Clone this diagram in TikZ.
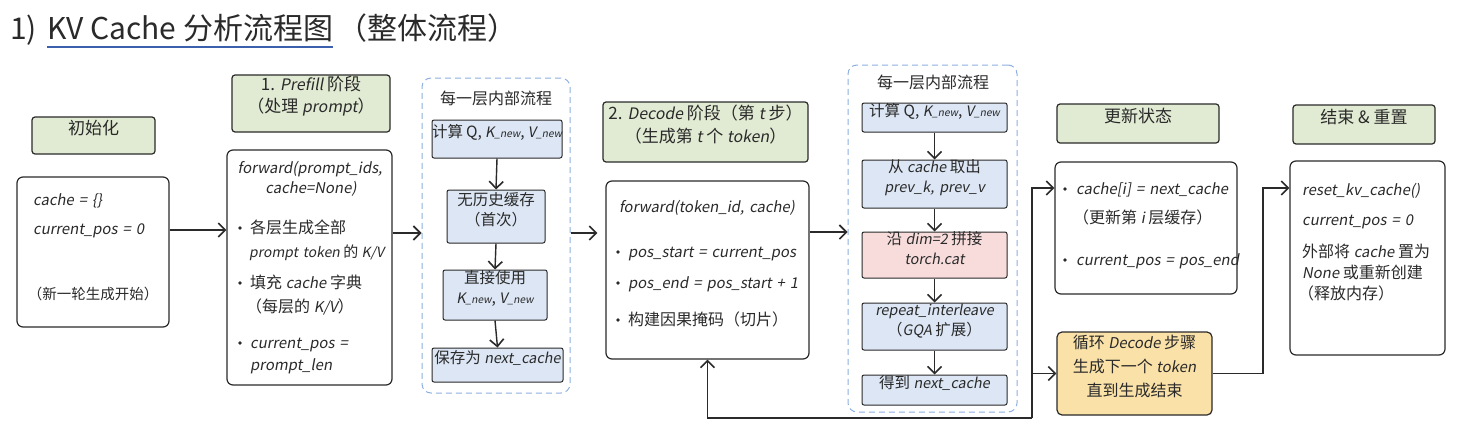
\documentclass[tikz,border=0pt]{standalone}
\usepackage{fontspec}
\setmainfont{Noto Sans CJK SC}
\newfontfamily\codefont[FakeSlant=0.18,Scale=0.93,WordSpace=1.5]{Noto Sans CJK SC}
\usetikzlibrary{arrows.meta,fit,calc}
\definecolor{ink}{HTML}{2A2A2A}
\definecolor{lgreen}{HTML}{E1EAD2}
\definecolor{lblue}{HTML}{DCE6F4}
\definecolor{lpink}{HTML}{F8DCDC}
\definecolor{lyellow}{HTML}{FAE1A8}
\definecolor{dashblue}{HTML}{8EB0E0}
\definecolor{ulblue}{HTML}{3C5FAE}
\newcommand\I[1]{{\codefont #1}}
\newcommand\sub[1]{{\codefont\fontsize{11}{11}\selectfont\_#1}}
\begin{document}
\begin{tikzpicture}[x=1pt,y=-1pt,
  every node/.style={text=ink},
  lbl/.style={draw=ink, line width=1.2pt, fill=lgreen, rounded corners=3pt, inner sep=0pt, align=center, font=\fontsize{17}{22}\selectfont},
  mbox/.style={draw=ink, line width=1.2pt, fill=white, rounded corners=6pt, inner sep=0pt},
  sbox/.style={draw=ink, line width=1pt, fill=lblue, rounded corners=2pt, inner sep=0pt, align=center, font=\fontsize{15.5}{20}\selectfont},
  grp/.style={draw=dashblue, dash pattern=on 6pt off 4pt, line width=1pt, rounded corners=9pt, inner sep=0pt},
  txt/.style={inner sep=0pt, anchor=base west, font=\fontsize{16}{19}\selectfont},
  ctxt/.style={txt, anchor=base},
  arr/.style={draw=ink, line width=1.4pt, -{Straight Barb[length=7pt,width=14pt,line width=1.6pt]}},
  bul/.style={fill=ink}
]
\fill[white] (0,0) rectangle (1467,434);
\useasboundingbox (0,0) rectangle (1467,434);

% title
\node[txt, font=\fontsize{30}{34}\selectfont] (ttlnum) at (10,39) {1)};
\node[txt, font=\fontsize{30}{34}\selectfont] (ttlmain) at (47,39) {KV Cache 分析流程图};
\node[txt, font=\fontsize{30}{34}\selectfont] (ttlsub) at ($(ttlmain.base east)+(4,0)$) {（整体流程）};
\coordinate (ulY) at (0,47);
\draw[ulblue, line width=1.5pt] (ttlmain.west |- ulY) -- (ttlmain.east |- ulY);

% init
\node[lbl, fit={(32,117) (155,154)}] (initlbl) {初始化};
\node[mbox, fit={(17,177) (169,327)}] (initbox) {};
\node[txt] (init1) at (33,205) {\I{cache = \{\}}};
\node[txt] (init2) at (33,234) {\I{current\_pos = 0}};
\node[ctxt, font=\fontsize{14.5}{18}\selectfont] (init3) at (93,299) {（新一轮生成开始）};

% prefill
\node[lbl, fit={(232,75) (390,132)}] (prelbl) {1. \I{Prefill} 阶段\\（处理 \I{prompt}）};
\node[mbox, fit={(227,150) (392,385)}] (prebox) {};
\node[ctxt] (pre1) at (310,173) {\I{forward(prompt\_ids,}};
\node[ctxt] (pre2) at (311,193) {\I{cache=None)}};
\fill[bul] (240,228) circle (1.8pt);
\fill[bul] (240,283) circle (1.8pt);
\fill[bul] (240,343) circle (1.8pt);
\node[txt] (pre3) at (250,233) {各层生成全部};
\node[txt, font=\fontsize{15}{19}\selectfont] (pre4) at (249,257) {\I{prompt token} 的 \I{K/V}};
\node[txt] (pre5) at (250,288) {填充 \I{cache} 字典};
\node[txt] (pre6) at (246,312) {（每层的 \I{K/V}）};
\node[txt] (pre7) at (250,348) {\I{current\_pos =}};
\node[txt] (pre8) at (250,370) {\I{prompt\_len}};

% inner flow 1
\node[grp, fit={(422,78) (570,393)}] (grp1) {};
\node[ctxt, font=\fontsize{16}{19}\selectfont] (grp1t) at (496,104) {每一层内部流程};
\node[sbox, fit={(432,120) (562,158)}] (p1) {计算 Q, \I{K}\sub{new}, \I{V}\sub{new}};
\node[sbox, fit={(447,190) (545,243)}] (p2) {无历史缓存\\（首次）};
\node[sbox, fit={(443,270) (547,320)}] (p3) {直接使用\\\I{K}\sub{new}, \I{V}\sub{new}};
\node[sbox, fit={(432,348) (563,382)}] (p4) {保存为 \I{next\_cache}};
\draw[arr] (p1.south) -- (p2.north);
\draw[arr] (p2.south) -- (p3.north);
\draw[arr] (p3.south) -- (p4.north);

% decode
\node[lbl, fit={(603,102) (808,162)}, font=\fontsize{17}{23}\selectfont] (declbl) {2. \I{Decode} 阶段（第 \I{t} 步）\\（生成第 \I{t} 个 \I{token}）};
\node[mbox, fit={(606,181) (809,359)}] (decbox) {};
\node[ctxt] (dec1) at (707,212) {\I{forward(token\_id, cache)}};
\fill[bul] (618,252) circle (1.8pt);
\fill[bul] (618,283) circle (1.8pt);
\fill[bul] (618,320) circle (1.8pt);
\node[txt] (dec2) at (628,257) {\I{pos\_start = current\_pos}};
\node[txt] (dec3) at (628,288) {\I{pos\_end = pos\_start + 1}};
\node[txt] (dec4) at (628,325) {构建因果掩码（切片）};

% inner flow 2
\node[grp, fit={(848,65) (1017,412)}] (grp2) {};
\node[ctxt, font=\fontsize{16}{19}\selectfont] (grp2t) at (933,88) {每一层内部流程};
\node[sbox, fit={(862,103) (1007,132)}] (c1) {计算 Q, \I{K}\sub{new}, \I{V}\sub{new}};
\node[sbox, fit={(862,160) (1007,208)}] (c2) {从 \I{cache} 取出\\\I{prev\_k, prev\_v}};
\node[sbox, fill=lpink, fit={(862,232) (1007,278)}] (c3) {沿 \I{dim=2} 拼接\\\I{torch.cat}};
\node[sbox, fit={(862,303) (1007,350)}] (c4) {\I{repeat\_interleave}\\（\I{GQA} 扩展）};
\node[sbox, fit={(862,375) (1007,405)}] (c5) {得到 \I{next\_cache}};
\draw[arr] (c1.south) -- (c2.north);
\draw[arr] (c2.south) -- (c3.north);
\draw[arr] (c3.south) -- (c4.north);
\draw[arr] (c4.south) -- (c5.north);

% update
\node[lbl, fit={(1057,104) (1219,143)}] (updlbl) {更新状态};
\node[mbox, fit={(1055,162) (1237,294)}] (updbox) {};
\fill[bul] (1065,189) circle (1.8pt);
\fill[bul] (1065,260) circle (1.8pt);
\node[txt] (upd1) at (1076,194) {\I{cache[i] = next\_cache}};
\node[txt] (upd2) at (1073,223) {（更新第 \I{i} 层缓存）};
\node[txt] (upd3) at (1076,265) {\I{current\_pos = pos\_end}};

% loop
\node[sbox, fill=lyellow, line width=1.2pt, rounded corners=5pt, fit={(1057,332) (1212,415)}, font=\fontsize{16}{24}\selectfont] (loopbox) {循环 \I{Decode} 步骤\\生成下一个 \I{token}\\直到生成结束};

% end
\node[lbl, fit={(1293,105) (1435,144)}] (endlbl) {结束 \& 重置};
\node[mbox, fit={(1290,161) (1445,355)}] (endbox) {};
\node[txt] (end1) at (1302,195) {\I{reset\_kv\_cache()}};
\node[txt] (end2) at (1302,225) {\I{current\_pos = 0}};
\node[txt] (end3) at (1302,257) {外部将 \I{cache} 置为};
\node[txt] (end4) at (1302,278) {\I{None} 或重新创建};
\node[txt] (end5) at (1298,299) {（释放内存）};

% connectors
\coordinate (yA) at (0,230);
\coordinate (yB) at (0,233);
\coordinate (yC) at (0,232);
\draw[arr] (initbox.east |- yA) -- (prebox.west |- yA);
\draw[arr] (prebox.east |- yB) -- (grp1.west |- yB);
\draw[arr, shorten >=8pt] (grp1.east |- yB) -- (decbox.west |- yB);
\draw[arr] (decbox.east |- yC) -- (grp2.west |- yC);
\coordinate (busR) at (1032,418);
\coordinate (busU) at (1032,188);
\draw[arr] (busR) -| (decbox.south);
\draw[arr] (busR) -- (busU) -- (updbox.west |- busU);
\draw[arr] (busR |- loopbox.west) -- (loopbox.west);
\coordinate (endK) at (1263,188);
\draw[arr] (loopbox.east) -| (endK) -- (endbox.west |- endK);
\end{tikzpicture}
\end{document}
